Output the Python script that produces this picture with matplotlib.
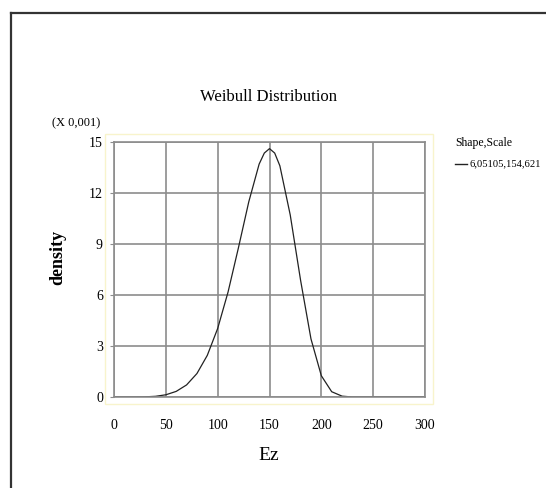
import matplotlib
matplotlib.use("Agg")
import matplotlib.pyplot as plt
from matplotlib.patches import Rectangle
from matplotlib.lines import Line2D

# density values (x 0.001)
ez = [0, 10, 20, 30, 40, 50, 60, 70, 80, 90, 100, 110, 120, 130, 140, 145,
      150, 155, 160, 170, 180, 190, 200, 210, 220, 230, 240, 250, 260, 270, 280, 290, 300]
density = [0.0, 0.0, 0.0, 0.01, 0.04, 0.13, 0.33, 0.71, 1.38, 2.45, 4.03, 6.17, 8.77, 11.48, 13.70, 14.35,
           14.61, 14.35, 13.60, 10.71, 6.86, 3.42, 1.25, 0.31, 0.05, 0.0, 0.0, 0.0, 0.0, 0.0, 0.0, 0.0, 0.0]
x_ticks = [0, 50, 100, 150, 200, 250, 300]
y_ticks = [0, 3, 6, 9, 12, 15]
legend_title = "Shape,Scale"
series_label = "6,05105,154,621"

W, H = 546, 488
plt.rcParams['font.family'] = ['Liberation Serif', 'DejaVu Serif']

fig = plt.figure(figsize=(W / 100, H / 100), dpi=100)
ax = fig.add_axes([114 / W, 1 - 397 / H, (425 - 114) / W, (397 - 142) / H])

line, = ax.plot(ez, density, color='#222222', lw=0.9)

ax.set_xlim(0, 300)
ax.set_ylim(0, 15)
ax.set_xticks(x_ticks)
ax.set_yticks(y_ticks)
ax.grid(True, color='#8c8c8c', lw=1.2)
for s in ax.spines.values():
    s.set_color('#8c8c8c')
    s.set_linewidth(1.2)
ax.tick_params(axis='y', length=3, color='#8c8c8c', labelsize=10, pad=5)
ax.tick_params(axis='x', length=0, labelsize=10, pad=16)

# faint yellow frame round the plot area
fig.patches.append(Rectangle((105 / W, 1 - 404 / H), (433 - 105) / W, (404 - 134) / H,
                             transform=fig.transFigure, fill=False, ec='#f8f4cc', lw=1))
# outer border
fig.add_artist(Line2D([11 / W, 1], [1 - 13 / H, 1 - 13 / H], color='#333333', lw=1.6))
fig.add_artist(Line2D([11 / W, 11 / W], [0, 1 - 13 / H], color='#333333', lw=1.6))

fig.text(269 / W, 1 - 97 / H, "Weibull Distribution", ha='center', va='center', fontsize=12)
fig.text(76 / W, 1 - 123 / H, "(X 0,001)", ha='center', va='center', fontsize=9)
fig.text(58 / W, 1 - 257 / H, "density", ha='center', va='center', fontsize=13,
         fontweight='bold', rotation=90)
fig.text(269 / W, 1 - 455 / H, "Ez", ha='center', va='center', fontsize=14)

# legend
fig.text(455 / W, 1 - 143 / H, legend_title, ha='left', va='center', fontsize=8.5)
fig.add_artist(Line2D([455 / W, 467 / W], [1 - 164 / H, 1 - 164 / H], color='#222222', lw=1))
fig.text(470 / W, 1 - 164 / H, series_label, ha='left', va='center', fontsize=7.6)

fig.savefig("out.png", dpi=100)
